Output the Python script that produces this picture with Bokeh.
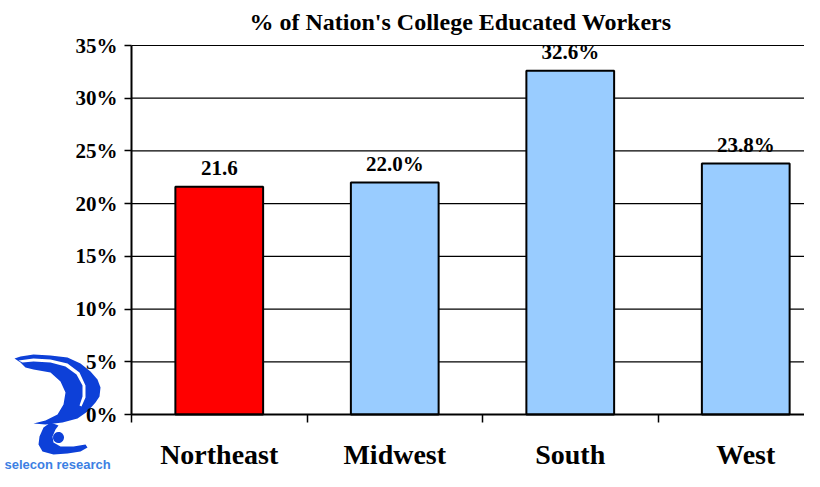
from bokeh.plotting import figure
from bokeh.models import (Range1d, FixedTicker, PrintfTickFormatter, ColumnDataSource,
                          PolyAnnotation, Label)
from bokeh.core.properties import value
from bokeh.embed import file_html
from bokeh.resources import INLINE
import numpy as np

# ---- data ----
regions = ["Northeast", "Midwest", "South", "West"]
shares = [21.6, 22.0, 32.6, 23.8]
bar_labels = ["21.6", "22.0%", "32.6%", "23.8%"]
bar_colors = ["#FF0000", "#99CCFF", "#99CCFF", "#99CCFF"]
y_ticks = [0, 5, 10, 15, 20, 25, 30, 35]
title_text = "% of Nation's College Educated Workers"
logo_text = "selecon research"

SERIF = "Liberation Serif"
W, H = 804, 471

# layout geometry (pixels): axis origin and scale
X0_PX, CAT_PX = 131, 175.5          # y-axis position, width of one category
Y0_PX, YTOP_PX = 414, 45            # pixel rows of 0% and 35%
ymax = y_ticks[-1]
py = (Y0_PX - YTOP_PX) / ymax
x_start, x_end = -X0_PX / CAT_PX, (W - X0_PX) / CAT_PX
y_start, y_end = -(H - Y0_PX) / py, ymax + YTOP_PX / py

x_pos = np.arange(len(regions)) + 0.5
src = ColumnDataSource(dict(x=x_pos, top=shares, lab=bar_labels, color=bar_colors))

p = figure(width=W, height=H, output_backend="svg", toolbar_location=None,
           title=None, x_range=Range1d(x_start, x_end), y_range=Range1d(y_start, y_end),
           min_border_left=0, min_border_right=0, min_border_top=0,
           min_border_bottom=0)
p.outline_line_color = None
p.background_fill_color = "white"
p.border_fill_color = "white"
p.xgrid.visible = False
p.ygrid.visible = False

# horizontal grid lines from the y axis to the right
p.ray(x=0, y=y_ticks, length=0, angle=0, line_color="black", line_width=1.2)

# bars
p.vbar(x="x", top="top", width=0.5, bottom=0, source=src, fill_color="color",
       line_color="black", line_width=2)
p.text(x="x", y="top", text="lab", source=src, y_offset=-19,
       text_align="center", text_baseline="alphabetic", text_font=value(SERIF),
       text_font_size="21px", text_font_style="bold", text_color="black")

# y axis
p.yaxis.fixed_location = 0
p.yaxis.bounds = (0, ymax)
p.yaxis.ticker = FixedTicker(ticks=y_ticks)
p.yaxis.formatter = PrintfTickFormatter(format="%d%%")
p.yaxis.axis_line_width = 2
p.yaxis.axis_line_color = "black"
p.yaxis.major_tick_out = 7
p.yaxis.major_tick_in = 0
p.yaxis.major_tick_line_width = 1.5
p.yaxis.minor_tick_line_color = None
p.yaxis.major_label_standoff = 7
p.yaxis.major_label_text_font = SERIF
p.yaxis.major_label_text_font_size = "21px"
p.yaxis.major_label_text_font_style = "bold"
p.yaxis.major_label_text_color = "black"

# x axis: labels at centres, ticks at category boundaries
p.xaxis.fixed_location = 0
p.xaxis.bounds = (0, x_end)
p.xaxis.ticker = FixedTicker(ticks=list(x_pos), minor_ticks=list(range(len(regions))))
p.xaxis.major_label_overrides = {float(x): r for x, r in zip(x_pos, regions)}
p.xaxis.major_tick_line_color = None
p.xaxis.major_tick_out = 0
p.xaxis.major_tick_in = 0
p.xaxis.minor_tick_out = 8
p.xaxis.minor_tick_in = 0
p.xaxis.minor_tick_line_width = 1.5
p.xaxis.minor_tick_line_color = "black"
p.xaxis.axis_line_width = 2
p.xaxis.axis_line_color = "black"
p.xaxis.major_label_standoff = 16
p.xaxis.major_label_text_font = SERIF
p.xaxis.major_label_text_font_size = "28px"
p.xaxis.major_label_text_font_style = "bold"
p.xaxis.major_label_text_color = "black"

# title
p.add_layout(Label(x=460, y=H - 21, x_units="screen", y_units="screen",
                   text=title_text, text_font=SERIF, text_font_size="24px",
                   text_font_style="bold", text_color="black",
                   text_align="center", text_baseline="alphabetic"))

# ---- logo (decoration, drawn in screen pixels) ----
DY = -6
def scr(pts):
    xs = [x for x, y in pts]
    ys = [H - (y + DY) for x, y in pts]
    return xs, ys

logo_blue = "#0D40D8"
crescent = [(14, 364), (20, 362), (33, 360), (50, 361), (67, 363), (80, 369),
            (90, 377), (97, 385), (100, 393), (99, 402), (95, 408), (87, 417),
            (77, 424), (62, 428), (45, 430), (33, 429), (45, 426), (57, 420),
            (63, 410), (65, 398), (60, 387), (50, 378), (33, 375), (25, 373),
            (20, 368)]
stripe = [(18, 366), (33, 364), (50, 365), (67, 369), (79, 378), (85, 391),
          (85, 403), (81, 412), (79, 411), (82, 402), (82, 391), (76, 380),
          (65, 372), (50, 368), (33, 367), (22, 368)]
blob = [(50, 428), (43, 433), (39, 442), (38, 450), (42, 457), (53, 460),
        (67, 459), (80, 457), (87, 453), (85, 450), (73, 452), (60, 452),
        (53, 448), (52, 442), (55, 435), (58, 431)]
for pts, col in [(crescent, logo_blue), (stripe, "white"), (blob, logo_blue)]:
    xs, ys = scr(pts)
    p.add_layout(PolyAnnotation(xs=xs, ys=ys, xs_units="screen", ys_units="screen",
                                fill_color=col, fill_alpha=1, line_color=None,
                                level="underlay"))
dot = [(58 + 5.5 * np.cos(t), 443 + 5.5 * np.sin(t)) for t in np.linspace(0, 2 * np.pi, 24)]
xs, ys = scr(dot)
p.add_layout(PolyAnnotation(xs=xs, ys=ys, xs_units="screen", ys_units="screen",
                            fill_color=logo_blue, fill_alpha=1, line_color=None,
                            level="underlay"))
p.add_layout(Label(x=4, y=H - 464, x_units="screen", y_units="screen",
                   text=logo_text, text_font="Liberation Sans",
                   text_font_size="13px", text_font_style="bold",
                   text_color="#3D7FE3", text_baseline="alphabetic"))

open("out.html", "w").write(file_html(p, INLINE))
